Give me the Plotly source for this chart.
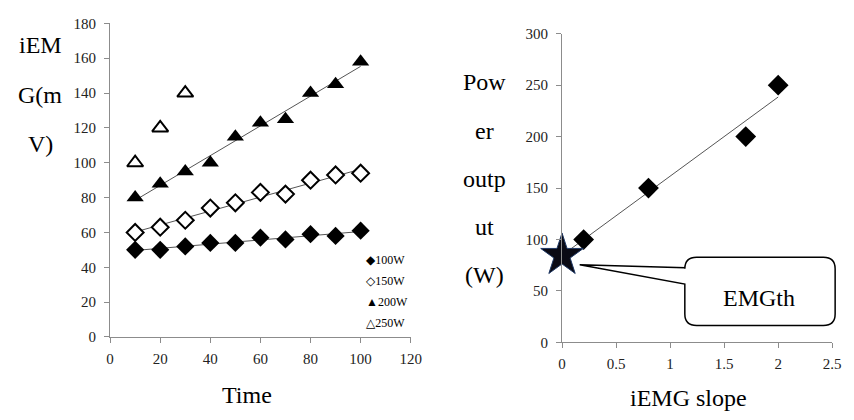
import numpy as np
import plotly.graph_objects as go

W, H = 854, 420

# ---- data (left chart) ----
time = [10, 20, 30, 40, 50, 60, 70, 80, 90, 100]
w100 = [50, 50, 52, 54, 54, 57, 56, 59, 58, 61]
w150 = [60, 63, 67, 74, 77, 83, 82, 90, 93, 94]
w200 = [80, 88, 95, 100, 115, 123, 125, 140, 145, 158]
time250 = [10, 20, 30]
w250 = [100, 120, 140]
legend_labels = ["◆100W", "◇150W", "▲200W", "△250W"]

# ---- data (right chart) ----
slope = [0.2, 0.8, 1.7, 2.0]
power = [100, 150, 200, 250]

SERIF = "'Liberation Serif', 'DejaVu Serif', serif"


def px(x):
    return x / W


def py(y):
    return 1 - y / H


fig = go.Figure()

# trend lines (linear fits of the series)
for ys in (w100, w150, w200):
    k, b = np.polyfit(time, ys, 1)
    xs = [time[0], time[-1]]
    fig.add_trace(go.Scatter(x=xs, y=[k * v + b for v in xs], mode="lines",
                             line=dict(color="#555555", width=1),
                             xaxis="x", yaxis="y", showlegend=False, hoverinfo="skip"))

fig.add_trace(go.Scatter(x=time, y=w100, mode="markers", name="100W",
                         marker=dict(symbol="diamond", size=14, color="black"),
                         xaxis="x", yaxis="y"))
fig.add_trace(go.Scatter(x=time, y=w150, mode="markers", name="150W",
                         marker=dict(symbol="diamond", size=13, color="white",
                                     line=dict(color="black", width=2)),
                         xaxis="x", yaxis="y"))
fig.add_trace(go.Scatter(x=time, y=w200, mode="markers", name="200W",
                         marker=dict(symbol="triangle-up", size=15, color="black"),
                         xaxis="x", yaxis="y"))
fig.add_trace(go.Scatter(x=time250, y=w250, mode="markers", name="250W",
                         marker=dict(symbol="triangle-up", size=14, color="white",
                                     line=dict(color="black", width=2)),
                         xaxis="x", yaxis="y"))

# right chart
k2, b2 = np.polyfit(slope, power, 1)
xs2 = [0, slope[-1]]
fig.add_trace(go.Scatter(x=xs2, y=[k2 * v + b2 for v in xs2], mode="lines",
                         line=dict(color="#555555", width=1),
                         xaxis="x2", yaxis="y2", showlegend=False, hoverinfo="skip"))
fig.add_trace(go.Scatter(x=slope, y=power, mode="markers", name="power",
                         marker=dict(symbol="diamond", size=16, color="black"),
                         xaxis="x2", yaxis="y2"))
fig.add_trace(go.Scatter(x=[0], y=[b2], mode="markers", name="EMGth", cliponaxis=False,
                         marker=dict(symbol="star", size=32, color="#0a0a14",
                                     line=dict(color="#1f3864", width=1)),
                         xaxis="x2", yaxis="y2"))

axis_common = dict(showline=True, linecolor="#8c8c8c", linewidth=1,
                   ticks="outside", ticklen=5, tickcolor="#8c8c8c",
                   showgrid=False, zeroline=False)


def tf():
    return dict(family=SERIF, size=15, color="#222222")


fig.update_layout(
    width=W, height=H, margin=dict(l=0, r=0, t=0, b=0),
    font=dict(family=SERIF, size=15, color="#222222"),
    paper_bgcolor="white", plot_bgcolor="white", showlegend=False,
    xaxis=dict(domain=[px(108), px(414)], range=[0, 120], dtick=20, anchor="y",
               tickfont=tf(), ticklabelstandoff=3, **axis_common),
    yaxis=dict(domain=[py(342), py(16)], range=[0, 180], dtick=20, anchor="x",
               tickfont=tf(), ticklabelstandoff=5, **axis_common),
    xaxis2=dict(domain=[px(568), px(843)], range=[0, 2.5], dtick=0.5, anchor="y2",
                tickfont=tf(), ticklabelstandoff=3, **axis_common),
    yaxis2=dict(domain=[py(347.7), py(26.7)], range=[0, 300], dtick=50, anchor="x2",
                tickfont=tf(), ticklabelstandoff=5, **axis_common),
)

annotations = []


def txt(text, x, y, size=24, xanchor="center"):
    annotations.append(dict(text=text, x=px(x), y=py(y), xref="paper", yref="paper",
                            xanchor=xanchor, yanchor="middle", showarrow=False,
                            font=dict(family=SERIF, size=size, color="black")))


for t, y in zip(["iEM", "G(m", "V)"], [38, 90, 141]):
    txt(t, 37, y)
for t, y in zip(["Pow", "er", "outp", "ut", "(W)"], [77, 128, 178, 228, 278]):
    txt(t, 489, y)
txt("Time", 247, 402)
txt("iEMG slope", 697, 405)

for t, y in zip(legend_labels, [262, 284, 306, 327]):
    txt(t, 366, y, size=12, xanchor="left")

txt("EMGth", 769, 302, size=24)

# callout shape
x1, x2, y1, y2, r = 693, 846, 259, 330, 12
tipx, tipy = 586, 267
pts = []
pts.append(f"M {px(x1 + r)},{py(y1)}")
pts.append(f"L {px(x2 - r)},{py(y1)}")
pts.append(f"Q {px(x2)},{py(y1)} {px(x2)},{py(y1 + r)}")
pts.append(f"L {px(x2)},{py(y2 - r)}")
pts.append(f"Q {px(x2)},{py(y2)} {px(x2 - r)},{py(y2)}")
pts.append(f"L {px(x1 + r)},{py(y2)}")
pts.append(f"Q {px(x1)},{py(y2)} {px(x1)},{py(y2 - r)}")
pts.append(f"L {px(x1)},{py(287)}")
pts.append(f"L {px(tipx)},{py(tipy)}")
pts.append(f"L {px(x1)},{py(270)}")
pts.append(f"L {px(x1)},{py(y1 + r)}")
pts.append(f"Q {px(x1)},{py(y1)} {px(x1 + r)},{py(y1)}")
pts.append("Z")

fig.update_layout(
    annotations=annotations,
    shapes=[dict(type="path", path=" ".join(pts), xref="paper", yref="paper",
                 line=dict(color="black", width=1.5), fillcolor="white", layer="above")],
)

fig.write_html("out.html",
               post_script="document.body.style.margin='0';document.body.style.overflow='hidden';")
